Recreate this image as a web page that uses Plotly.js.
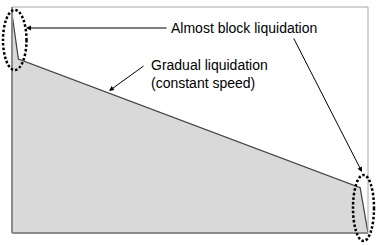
<!DOCTYPE html>
<html>
<head>
<meta charset="utf-8">
<script src="https://cdn.plot.ly/plotly-3.0.1.min.js"></script>
<style>html,body{margin:0;padding:0;background:#fff;}#chart{width:382px;height:245px;}</style>
</head>
<body>
<div id="chart"></div>
<script>
// Data (abstract units: time 0-100, position 0-100)
const timeX = [0, 1.8, 97.8, 100];
const positionY = [97, 77, 20, 0];
const labelBlock = "Almost block liquidation";
const labelGradual = "Gradual liquidation<br>(constant speed)";

const W = 382, H = 245;
const M = {l: 12, r: 14, t: 7, b: 12};
const pw = W - M.l - M.r, ph = H - M.t - M.b;
// pixel -> paper helpers for annotation placement
const PX = x => (x - M.l) / pw;
const PY = y => (H - M.b - y) / ph;

const trace = {
  x: timeX, y: positionY, type: 'scatter', mode: 'lines',
  fill: 'tozeroy', fillcolor: '#d9d9d9',
  line: {color: '#404040', width: 1.2},
  hoverinfo: 'skip'
};

const font = {family: 'Liberation Sans, Arial, sans-serif', size: 14, color: '#000'};

function arrow(sx, sy, tx, ty) {
  return {xref: 'paper', yref: 'paper', x: PX(tx), y: PY(ty), text: '',
    showarrow: true, axref: 'pixel', ayref: 'pixel', ax: sx - tx, ay: sy - ty,
    arrowhead: 2, arrowsize: 1, arrowwidth: 1, arrowcolor: '#000', standoff: 0, startstandoff: 0};
}

const layout = {
  width: W, height: H,
  margin: M,
  paper_bgcolor: '#fff', plot_bgcolor: '#fff',
  showlegend: false,
  xaxis: {range: [0, 100], showgrid: false, zeroline: false, showticklabels: false, ticks: '', showline: false, fixedrange: true},
  yaxis: {range: [0, 100], showgrid: false, zeroline: false, showticklabels: false, ticks: '', showline: false, fixedrange: true},
  shapes: [
    {type: 'rect', xref: 'paper', yref: 'paper', x0: 0, x1: 1, y0: 0, y1: 1, line: {color: '#a6a6a6', width: 1}},
    {type: 'line', xref: 'paper', yref: 'paper', x0: 0, x1: 0, y0: 0, y1: 1, line: {color: '#8c8c8c', width: 2}},
    {type: 'line', xref: 'paper', yref: 'paper', x0: 0, x1: 1, y0: 0, y1: 0, line: {color: '#8c8c8c', width: 2}},
    {type: 'circle', xref: 'paper', yref: 'paper', x0: PX(3), x1: PX(26.5), y0: PY(70), y1: PY(10), line: {color: '#000', width: 2.5, dash: '2.5px,2px'}},
    {type: 'circle', xref: 'paper', yref: 'paper', x0: PX(353), x1: PX(374), y0: PY(241), y1: PY(175), line: {color: '#000', width: 2.5, dash: '2.5px,2px'}}
  ],
  annotations: [
    {xref: 'paper', yref: 'paper', x: PX(169), y: PY(28), xanchor: 'left', yanchor: 'middle', text: labelBlock, showarrow: false, font: font},
    {xref: 'paper', yref: 'paper', x: PX(149), y: PY(74), xanchor: 'left', yanchor: 'middle', align: 'left', text: labelGradual, showarrow: false, font: font},
    arrow(168, 28, 26, 28),
    arrow(293, 37, 362, 172),
    arrow(145, 65, 109, 91)
  ]
};

Plotly.newPlot('chart', [trace], layout, {displayModeBar: false, staticPlot: true});
</script>
</body>
</html>
